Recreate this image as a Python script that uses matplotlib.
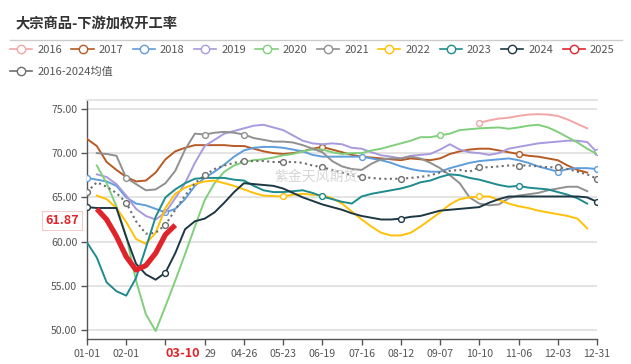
import numpy as np
import pandas as pd
import matplotlib
matplotlib.use("Agg")
import matplotlib.pyplot as plt
from matplotlib.lines import Line2D
from matplotlib.transforms import ScaledTranslation

plt.rcParams['font.family'] = ['Noto Sans CJK SC', 'DejaVu Sans']

### data (weekly points, week 0 = 01-01)
weeks = np.arange(53)
tick_weeks = list(range(0, 53, 4))
tick_labels = ['01-01', '02-01', '', '29', '04-26', '05-23', '06-19',
               '07-16', '08-12', '09-07', '10-10', '11-06', '12-03', '12-31']
today_label = '03-10'

start_2016 = 40
y2016 = [73.4, 73.7, 73.9, 74.0, 74.2, 74.35, 74.4, 74.35, 74.2, 73.8, 73.3, 72.8]

start_2017 = 0
y2017 = [71.6, 70.8, 69.0, 68.1, 67.3, 66.8, 66.9, 67.8, 69.3, 70.2,
         70.6, 70.9, 70.9, 70.9, 70.9, 70.8, 70.8, 70.5, 70.2, 70.0,
         69.9, 70.0, 70.2, 70.5, 70.7, 70.4, 70.1, 69.8, 69.6, 69.5,
         69.4, 69.3, 69.2, 69.4, 69.3, 69.2, 69.4, 69.9, 70.2, 70.4,
         70.5, 70.5, 70.3, 70.1, 69.9, 69.7, 69.6, 69.4, 69.2, 68.6,
         68.1, 67.8]

start_2018 = 0
y2018 = [67.2, 67.0, 66.8, 66.3, 65.0, 64.3, 64.1, 63.7, 63.3, 63.7,
         64.8, 66.3, 67.2, 67.9, 68.7, 69.6, 70.3, 70.6, 70.7, 70.7,
         70.6, 70.4, 70.2, 69.8, 69.6, 69.6, 69.6, 69.6, 69.6, 69.4,
         69.2, 68.9, 68.5, 68.2, 68.0, 67.9, 67.9, 68.3, 68.6, 68.9,
         69.1, 69.2, 69.3, 69.4, 69.2, 68.9, 68.5, 68.2, 67.9, 68.2,
         68.3, 68.3, 68.2]

start_2019 = 1
y2019 = [67.6, 67.3, 66.5, 65.2, 63.7, 62.9, 62.5, 63.3, 64.9, 66.6,
         68.9, 70.8, 71.5, 72.2, 72.5, 72.8, 73.1, 73.2, 72.9, 72.6,
         72.0, 71.4, 71.1, 71.0, 71.1, 71.0, 70.6, 70.5, 70.1, 69.75,
         69.6, 69.4, 69.7, 69.8, 69.9, 70.4, 71.0, 70.4, 70.1, 70.0,
         69.8, 70.0, 70.5, 70.7, 70.9, 71.1, 71.2, 71.3, 71.4, 71.4,
         71.25, 70.1]

start_2020 = 1
y2020 = [68.6, 66.6, 64.0, 60.6, 55.6, 51.8, 49.9, 52.7, 55.6, 58.6,
         61.7, 64.7, 66.6, 67.9, 68.6, 69.0, 69.2, 69.3, 69.5, 69.75,
         69.9, 70.2, 70.4, 70.4, 70.1, 69.9, 70.0, 70.0, 70.3, 70.5,
         70.8, 71.1, 71.4, 71.8, 71.8, 72.0, 72.2, 72.6, 72.7, 72.8,
         72.85, 72.9, 72.75, 72.9, 73.1, 73.2, 72.9, 72.4, 71.8, 71.2,
         70.5, 69.9]

start_2021 = 1
y2021 = [70.0, 69.9, 69.7, 67.2, 66.5, 65.8, 65.9, 66.6, 68.0, 70.4,
         72.2, 72.1, 72.3, 72.4, 72.3, 72.1, 71.7, 71.5, 71.3, 71.3,
         71.2, 70.9, 70.5, 70.1, 69.1, 68.5, 68.2, 68.1, 68.8, 69.3,
         69.4, 69.4, 69.6, 69.4, 68.9, 68.3, 67.5, 66.6, 65.0, 64.3,
         64.1, 64.2, 64.9, 65.2, 65.35, 65.5, 65.8, 66.0, 66.2, 66.2,
         65.7]

start_2022 = 1
y2022 = [65.2, 64.8, 63.8, 62.2, 60.3, 59.75, 61.0, 63.8, 65.4, 66.1,
         66.5, 66.8, 66.9, 66.6, 66.3, 65.9, 65.5, 65.2, 65.15, 65.1,
         65.3, 65.4, 65.3, 65.25, 64.9, 64.3, 63.4, 62.5, 61.7, 61.0,
         60.7, 60.7, 61.0, 61.7, 62.5, 63.3, 64.2, 64.8, 65.0, 65.1,
         65.1, 64.7, 64.3, 64.0, 63.8, 63.5, 63.3, 63.1, 62.9, 62.6,
         61.5]

start_2023 = 0
y2023 = [59.9, 58.2, 55.4, 54.4, 53.9, 55.9, 59.3, 62.8, 65.0, 65.9,
         66.6, 67.1, 67.2, 67.2, 67.2, 67.0, 66.9, 66.3, 65.8, 65.6,
         65.6, 65.7, 65.8, 65.5, 65.1, 64.8, 64.5, 64.3, 65.1, 65.4,
         65.6, 65.8, 66.0, 66.3, 66.7, 66.9, 67.3, 67.6, 67.5, 67.2,
         67.0, 66.7, 66.4, 66.2, 66.3, 66.1, 66.0, 65.9, 65.6, 65.3,
         64.9, 64.3]

start_2024 = 0
y2024 = [63.9, 63.8, 63.8, 63.8, 60.5, 57.5, 56.3, 55.7, 56.5, 58.7,
         61.4, 62.3, 62.6, 63.3, 64.4, 65.6, 66.6, 66.5, 66.4, 66.3,
         66.0, 65.5, 65.0, 64.6, 64.2, 63.9, 63.6, 63.2, 62.9, 62.7,
         62.5, 62.5, 62.6, 62.8, 62.9, 63.2, 63.5, 63.6, 63.7, 63.8,
         63.9, 64.4, 64.8, 65.1, 65.1, 65.1, 65.1, 65.1, 65.1, 65.1,
         65.1, 65.0, 64.5]

start_2025 = 1
y2025 = [63.7, 62.5, 60.6, 58.3, 56.8, 57.3, 58.7, 60.8, 61.87]

start_avg = 0
y_avg = [65.6, 66.7, 66.2, 65.5, 64.4, 62.3, 60.9, 61.0, 61.9, 63.6,
         65.2, 66.6, 67.5, 68.2, 68.6, 68.9, 69.1, 69.1, 69.1, 69.0,
         69.0, 69.0, 68.9, 68.6, 68.4, 68.1, 67.8, 67.5, 67.3, 67.2,
         67.1, 67.1, 67.1, 67.2, 67.3, 67.5, 67.8, 68.0, 68.1, 67.9,
         68.4, 68.4, 68.5, 68.6, 68.6, 68.6, 68.5, 68.4, 68.4, 68.2,
         67.9, 67.6, 67.1]

### styles
years = ['2016', '2017', '2018', '2019', '2020', '2021', '2022', '2023', '2024', '2025']
starts = [start_2016, start_2017, start_2018, start_2019, start_2020,
          start_2021, start_2022, start_2023, start_2024, start_2025]
values = [y2016, y2017, y2018, y2019, y2020, y2021, y2022, y2023, y2024, y2025]
colors = ['#f2a6a6', '#b85a23', '#5f9ddb', '#a99ade', '#80cf7b',
          '#909090', '#ffc107', '#1f8b8e', '#1e3745', '#e0242b']
# weeks where the chart shows a circle marker
marker_weeks = {'2016': [40], '2017': [24, 44], '2018': [0, 8, 28, 48, 52],
                '2019': [52], '2020': [36], '2021': [4, 12, 16],
                '2022': [20, 40], '2023': [24, 44], '2024': [0, 8, 32, 52],
                '2025': []}
avg_color = '#6e6e6e'
avg_marker_weeks = [0, 4, 8, 12, 16, 20, 24, 28, 32, 40, 44, 48, 52]

fig = plt.figure(figsize=(6.31, 3.64), dpi=100)
ax = fig.add_axes([87/631, 1-339/364, 510/631, 239/364])

def marks(start, n, wks):
    return [w - start for w in wks if start <= w < start + n]

for yr, st, vals, col in zip(years, starts, values, colors):
    xs = weeks[st:st+len(vals)]
    if yr == '2025':
        ax.plot(xs, vals, color=col, lw=3.8, solid_capstyle='butt', zorder=10)
    else:
        ax.plot(xs, vals, color=col, lw=1.4, zorder=4 if yr != '2024' else 5,
                marker='o', markevery=marks(st, len(vals), marker_weeks[yr]),
                markersize=4.2, markerfacecolor='white', markeredgecolor=col,
                markeredgewidth=1.0)

xs = weeks[start_avg:start_avg+len(y_avg)]
ax.plot(xs, y_avg, color=avg_color, lw=1.5, ls=(0, (1, 1.6)), zorder=6,
        marker='o', markevery=marks(start_avg, len(y_avg), avg_marker_weeks),
        markersize=4.2, markerfacecolor='white', markeredgecolor=avg_color,
        markeredgewidth=1.0)

### axes
ax.set_xlim(0, 52)
ax.set_ylim(49, 76)
ax.set_yticks([50, 55, 60, 65, 70, 75])
ax.set_yticklabels(['%.2f' % v for v in [50, 55, 60, 65, 70, 75]])
ax.grid(axis='y', color='#e2e2e2', lw=1.3, zorder=0)
ax.set_axisbelow(True)
ax.spines['right'].set_visible(False)
ax.spines['top'].set_color('#e2e2e2')
ax.spines['top'].set_linewidth(1.3)
for s in ['left', 'bottom']:
    ax.spines[s].set_color('#555555')
    ax.spines[s].set_linewidth(1.0)
ax.tick_params(axis='both', colors='#555555', labelsize=7.6, length=4, width=1.0)
ax.tick_params(axis='y', pad=3)
ax.tick_params(axis='x', pad=3)

ax.set_xticks(tick_weeks)
ax.set_xticklabels(tick_labels)
# the "29" label is shifted right, as in the original
lbl = ax.get_xticklabels()[3]
lbl.set_transform(lbl.get_transform() + ScaledTranslation(6/100, 0, fig.dpi_scale_trans))

# current-date label on the x axis
today_week = (pd.Timestamp('2025-' + today_label).dayofyear - 1) / 7
ax.text(today_week, -0.035, today_label, transform=ax.get_xaxis_transform(),
        ha='center', va='top', color='#e0242b', fontsize=9.2, fontweight='bold')

# last value label on the y axis
ax.annotate('%.2f' % y2025[-1], xy=(0, y2025[-1]), xycoords=('axes fraction', 'data'),
            xytext=(-18, 3.5), textcoords='offset points', ha='center', va='center',
            color='#e0242b', fontsize=9, fontweight='bold', annotation_clip=False,
            bbox=dict(boxstyle='square,pad=0.25', fc='white', ec='#f0cccc', lw=0.8))

# watermark
fig.text(316/631, 1-177/364, '紫金天风期货', color='#d6d6d6', fontsize=10,
         ha='center', va='center')

### title and legend
fig.text(16/631, 1-24/364, '大宗商品-下游加权开工率', fontsize=10.3, fontweight='bold',
         color='#333333', ha='left', va='center')
fig.add_artist(Line2D([10/631, 622/631], [1-39.5/364, 1-39.5/364],
                      color='#cccccc', lw=1.0))

handles = [Line2D([], [], color=c, lw=1.2, marker='o', markersize=6,
                  markerfacecolor='white', markeredgecolor=c, markeredgewidth=1.0)
           for c in colors]
leg1 = fig.legend(handles, years, loc='center left', ncol=10,
                  bbox_to_anchor=(10/631, 1-50/364), frameon=False, fontsize=8,
                  handlelength=2.0, handletextpad=0.45, columnspacing=0.85,
                  borderpad=0, borderaxespad=0, labelcolor='#555555')
avg_handle = Line2D([], [], color=avg_color, lw=1.2, marker='o', markersize=6,
                    markerfacecolor='white', markeredgecolor=avg_color,
                    markeredgewidth=1.0)
leg2 = fig.legend([avg_handle], ['2016-2024均值'], loc='center left',
                  bbox_to_anchor=(10/631, 1-72/364), frameon=False, fontsize=8,
                  handlelength=2.0, handletextpad=0.45,
                  borderpad=0, borderaxespad=0, labelcolor='#555555')

fig.savefig('out.png', dpi=100)
